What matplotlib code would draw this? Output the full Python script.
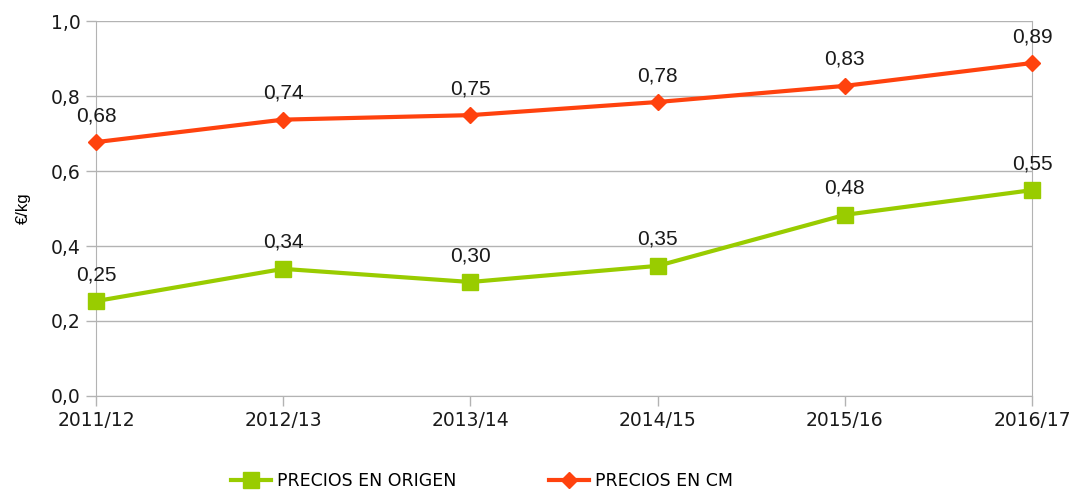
import matplotlib
matplotlib.use("Agg")
from matplotlib import pyplot as plt

campaigns = ["2011/12", "2012/13", "2013/14", "2014/15", "2015/16", "2016/17"]
precios_origen = [0.253, 0.339, 0.304, 0.347, 0.483, 0.549]
precios_cm = [0.677, 0.737, 0.749, 0.784, 0.827, 0.888]

GREEN = "#99CC00"
ORANGE = "#FF420E"
GRID = "#B3B3B3"

plt.rcParams["font.family"] = ["DejaVu Sans"]

fig = plt.figure(figsize=(10.71, 4.91), dpi=100)
ax = fig.add_axes([0.0896, 0.1935, 0.874, 0.7637])

x = list(range(len(campaigns)))
l1, = ax.plot(x, precios_origen, color=GREEN, lw=3, marker="s", ms=11,
              label="PRECIOS EN ORIGEN", clip_on=False, zorder=3)
l2, = ax.plot(x, precios_cm, color=ORANGE, lw=3, marker="D", ms=8,
              label="PRECIOS EN CM", clip_on=False, zorder=3)

# data labels
for series in (precios_origen, precios_cm):
    for xi, v in zip(x, series):
        ax.annotate("{:.2f}".format(v).replace(".", ","), (xi, v),
                    xytext=(0, 19), textcoords="offset points",
                    ha="center", va="center", fontsize=15,
                    family="Liberation Sans", color="#1a1a1a")

ax.set_xlim(0, 5)
ax.set_ylim(0, 1.0)
ax.set_yticks([0, 0.2, 0.4, 0.6, 0.8, 1.0])
ax.set_yticklabels(["0,0", "0,2", "0,4", "0,6", "0,8", "1,0"])
ax.set_xticks(x)
ax.set_xticklabels(campaigns)
ax.grid(axis="y", color=GRID, lw=1)
ax.set_axisbelow(True)
ax.tick_params(axis="both", colors=GRID, length=7, width=1, labelsize=13.5,
               labelcolor="#1a1a1a", pad=4)

for side in ("left", "right", "bottom"):
    ax.spines[side].set_color(GRID)
ax.spines["top"].set_visible(False)

ax.set_ylabel("€/kg", family="Liberation Sans", fontsize=12, labelpad=14)

fig.legend(handles=[l1, l2], loc="center", bbox_to_anchor=(0.45, 0.021),
           ncol=2, frameon=False, columnspacing=5.3,
           handlelength=2.3, handletextpad=0.35, fontsize=12.5)

plt.savefig("out.png", dpi=100)
